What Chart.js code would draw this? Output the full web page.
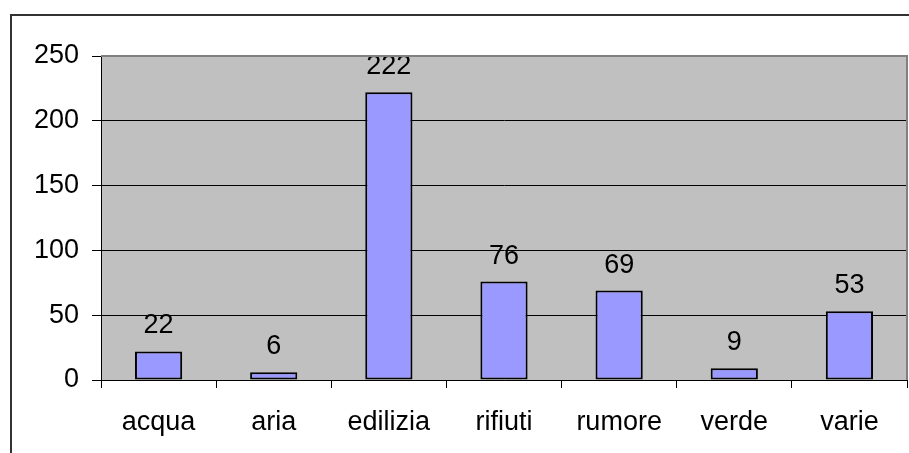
<!DOCTYPE html>
<html>
<head>
<meta charset="utf-8">
<script src="https://cdn.jsdelivr.net/npm/chart.js@4/dist/chart.umd.min.js"></script>
<style>
  html, body { margin: 0; padding: 0; background: #fff; }
  #wrap { width: 909px; height: 453px; position: relative; }
</style>
</head>
<body>
<div id="wrap"><canvas id="chart" width="909" height="453"></canvas></div>
<script>
// ---- data ----
const CATEGORIES = ["acqua", "aria", "edilizia", "rifiuti", "rumore", "verde", "varie"];
const VALUES = [22, 6, 222, 76, 69, 9, 53];
const Y_TICKS = [0, 50, 100, 150, 200, 250];

const FONT = "'Liberation Sans', Arial, sans-serif";
const FONT_SIZE = 27;

// grey plot area, borders and the frame round the whole thing
const frame = {
  id: "frame",
  beforeDraw(chart) {
    const { ctx, chartArea: a } = chart;
    ctx.save();
    ctx.fillStyle = "#c0c0c0";
    ctx.fillRect(a.left, a.top, a.right - a.left, a.bottom - a.top);
    ctx.restore();
  },
  afterDraw(chart) {
    const { ctx, chartArea: a } = chart;
    ctx.save();
    // plot border top/right
    ctx.strokeStyle = "#808080";
    ctx.lineWidth = 2;
    ctx.beginPath();
    ctx.moveTo(a.left, a.top);
    ctx.lineTo(a.right, a.top);
    ctx.lineTo(a.right, a.bottom);
    ctx.stroke();
    // outer frame
    ctx.strokeStyle = "#333";
    ctx.lineWidth = 2;
    ctx.beginPath();
    ctx.moveTo(11, 453);
    ctx.lineTo(11, 15);
    ctx.lineTo(909, 15);
    ctx.stroke();
    ctx.restore();
  }
};

// value labels above bars
const valueLabels = {
  id: "valueLabels",
  afterDatasetsDraw(chart) {
    const { ctx } = chart;
    const meta = chart.getDatasetMeta(0);
    ctx.save();
    ctx.fillStyle = "#000";
    ctx.font = FONT_SIZE + "px " + FONT;
    ctx.textAlign = "center";
    ctx.textBaseline = "alphabetic";
    meta.data.forEach((bar, i) => {
      ctx.fillText(String(VALUES[i]), bar.x, bar.y - 18);
    });
    ctx.restore();
  }
};

new Chart(document.getElementById("chart"), {
  type: "bar",
  data: {
    labels: CATEGORIES,
    datasets: [{
      data: VALUES,
      backgroundColor: "#9999ff",
      borderColor: "#000",
      borderWidth: 2,
      borderSkipped: false,
      categoryPercentage: 1,
      barPercentage: 0.41
    }]
  },
  options: {
    responsive: false,
    animation: false,
    layout: { padding: { left: 0, top: 56, right: 2, bottom: 0 } },
    plugins: {
      legend: { display: false },
      tooltip: { enabled: false }
    },
    scales: {
      x: {
        afterFit: (s) => { s.height = 73; },
        grid: {
          offset: true,
          drawOnChartArea: false,
          drawTicks: true,
          tickLength: 8,
          tickColor: "#000",
          tickWidth: 1
        },
        border: { color: "#000", width: 1 },
        ticks: {
          color: "#000",
          font: { family: FONT, size: FONT_SIZE },
          padding: 18
        }
      },
      y: {
        min: 0,
        max: 250,
        afterFit: (s) => { s.width = 101; },
        afterBuildTicks: (s) => { s.ticks = Y_TICKS.map(v => ({ value: v })); },
        grid: {
          color: "#000",
          lineWidth: 1,
          tickLength: 9,
          tickColor: "#000"
        },
        border: { color: "#000", width: 1 },
        ticks: {
          color: "#000",
          font: { family: FONT, size: FONT_SIZE },
          padding: 13
        }
      }
    }
  },
  plugins: [frame, valueLabels]
});
</script>
</body>
</html>
